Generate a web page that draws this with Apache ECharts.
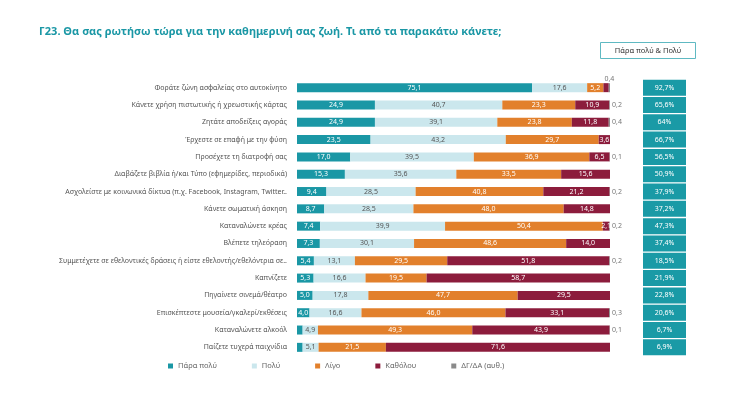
<!DOCTYPE html>
<html>
<head>
<meta charset="utf-8">
<script src="https://cdn.jsdelivr.net/npm/echarts@6/dist/echarts.min.js"></script>
<style>
  html, body { margin: 0; padding: 0; background: #fff; }
  #chart { width: 734px; height: 399px; }
</style>
</head>
<body>
<div id="chart"></div>
<script>
var categories = [
    'Φοράτε ζώνη ασφαλείας στο αυτοκίνητο',
    'Κάνετε χρήση πιστωτικής ή χρεωστικής κάρτας',
    'Ζητάτε αποδείξεις αγοράς',
    'Έρχεστε σε επαφή με την φύση',
    'Προσέχετε τη διατροφή σας',
    'Διαβάζετε βιβλία ή/και Τύπο (εφημερίδες, περιοδικά)',
    'Ασχολείστε με κοινωνικά δίκτυα (π.χ. Facebook, Instagram, Twitter..',
    'Κάνετε σωματική άσκηση',
    'Καταναλώνετε κρέας',
    'Βλέπετε τηλεόραση',
    'Συμμετέχετε σε εθελοντικές δράσεις ή είστε εθελοντής/εθελόντρια σε..',
    'Καπνίζετε',
    'Πηγαίνετε σινεμά/θέατρο',
    'Επισκέπτεστε μουσεία/γκαλερί/εκθέσεις',
    'Καταναλώνετε αλκοόλ',
    'Παίζετε τυχερά παιχνίδια'
];
var seriesNames = ['Πάρα πολύ', 'Πολύ', 'Λίγο', 'Καθόλου', 'ΔΓ/ΔΑ (αυθ.)'];
var paraPoly = [75.1, 24.9, 24.9, 23.5, 17.0, 15.3, 9.4, 8.7, 7.4, 7.3, 5.4, 5.3, 5.0, 4.0, 1.8, 1.8];
var poly     = [17.6, 40.7, 39.1, 43.2, 39.5, 35.6, 28.5, 28.5, 39.9, 30.1, 13.1, 16.6, 17.8, 16.6, 4.9, 5.1];
var ligo     = [5.2, 23.3, 23.8, 29.7, 36.9, 33.5, 40.8, 48.0, 50.4, 48.6, 29.5, 19.5, 47.7, 46.0, 49.3, 21.5];
var katholou = [1.7, 10.9, 11.8, 3.6, 6.5, 15.6, 21.2, 14.8, 2.1, 14.0, 51.8, 58.7, 29.5, 33.1, 43.9, 71.6];
var dgda     = [0.4, 0.2, 0.4, 0, 0.1, 0, 0.2, 0, 0.2, 0, 0.2, 0, 0, 0.3, 0.1, 0];
var totals   = ['92,7%', '65,6%', '64%', '66,7%', '56,5%', '50,9%', '37,9%', '37,2%',
                '47,3%', '37,4%', '18,5%', '21,9%', '22,8%', '20,6%', '6,7%', '6,9%'];

var colors = ['#1a97a5', '#cbe7ed', '#e2802c', '#8c1c3c', '#8a8a8a'];
var labelColors = ['#ffffff', '#555555', '#ffffff', '#ffffff', '#777777'];
var font = 'Noto Sans';

function fmt(v) {
    return v.toFixed(1).replace('.', ',');
}

var values = [paraPoly, poly, ligo, katholou, dgda];
var series = values.map(function (arr, i) {
    var data = arr.map(function (v, k) {
        // first row: the "don't know" label sits above the bar end
        if (i === 4 && k === 0) return { value: v, label: { position: 'top', distance: 1 } };
        return v;
    });
    return {
        name: seriesNames[i],
        type: 'bar',
        stack: 'all',
        barWidth: 9,
        data: data,
        itemStyle: { color: colors[i] },
        label: {
            show: true,
            position: i === 4 ? 'right' : 'inside',
            distance: 2,
            color: labelColors[i],
            fontSize: 7,
            fontFamily: font,
            formatter: function (p) {
                if (i === 4) return p.value > 0 ? fmt(p.value) : '';
                return p.value >= 2 ? fmt(p.value) : '';
            }
        }
    };
});

series.push({
    type: 'bar',
    xAxisIndex: 1,
    yAxisIndex: 1,
    barWidth: 16,
    data: totals.map(function () { return 1; }),
    itemStyle: { color: '#1a9aa6' },
    silent: true,
    label: {
        show: true,
        position: 'inside',
        color: '#ffffff',
        fontSize: 7,
        fontFamily: font,
        formatter: function (p) { return totals[p.dataIndex]; }
    }
});

var chart = echarts.init(document.getElementById('chart'));
chart.setOption({
    animation: false,
    title: {
        text: 'Γ23. Θα σας ρωτήσω τώρα για την καθημερινή σας ζωή. Τι από τα παρακάτω κάνετε;',
        left: 34,
        top: 21,
        textStyle: { color: '#1a97a5', fontSize: 11, fontWeight: 'bold', fontFamily: font }
    },
    legend: {
        data: seriesNames,
        left: 163,
        top: 357,
        itemWidth: 5,
        itemHeight: 5,
        itemGap: 35,
        icon: 'rect',
        textStyle: { color: '#666', fontSize: 7.5, fontFamily: font }
    },
    graphic: [{
        type: 'group',
        left: 600,
        top: 42,
        children: [{
            type: 'rect',
            shape: { x: 0, y: 0, width: 95, height: 16 },
            style: { fill: '#fff', stroke: '#5fb9c2', lineWidth: 1 }
        }, {
            type: 'text',
            x: 47.5,
            y: 8,
            style: {
                text: 'Πάρα πολύ & Πολύ',
                fill: '#333',
                fontSize: 7.5,
                fontFamily: font,
                align: 'center',
                verticalAlign: 'middle'
            }
        }]
    }],
    grid: [
        { left: 297, right: 124, top: 79, bottom: 43 },
        { left: 643, right: 48, top: 79, bottom: 43 }
    ],
    xAxis: [
        { type: 'value', min: 0, max: 100, show: false },
        { type: 'value', min: 0, max: 1, show: false, gridIndex: 1 }
    ],
    yAxis: [{
        type: 'category',
        data: categories,
        inverse: true,
        axisLine: { show: false },
        axisTick: { show: false },
        axisLabel: { color: '#555', fontSize: 7, fontFamily: font, margin: 10 }
    }, {
        type: 'category',
        data: categories,
        inverse: true,
        gridIndex: 1,
        show: false
    }],
    series: series
});
</script>
</body>
</html>
